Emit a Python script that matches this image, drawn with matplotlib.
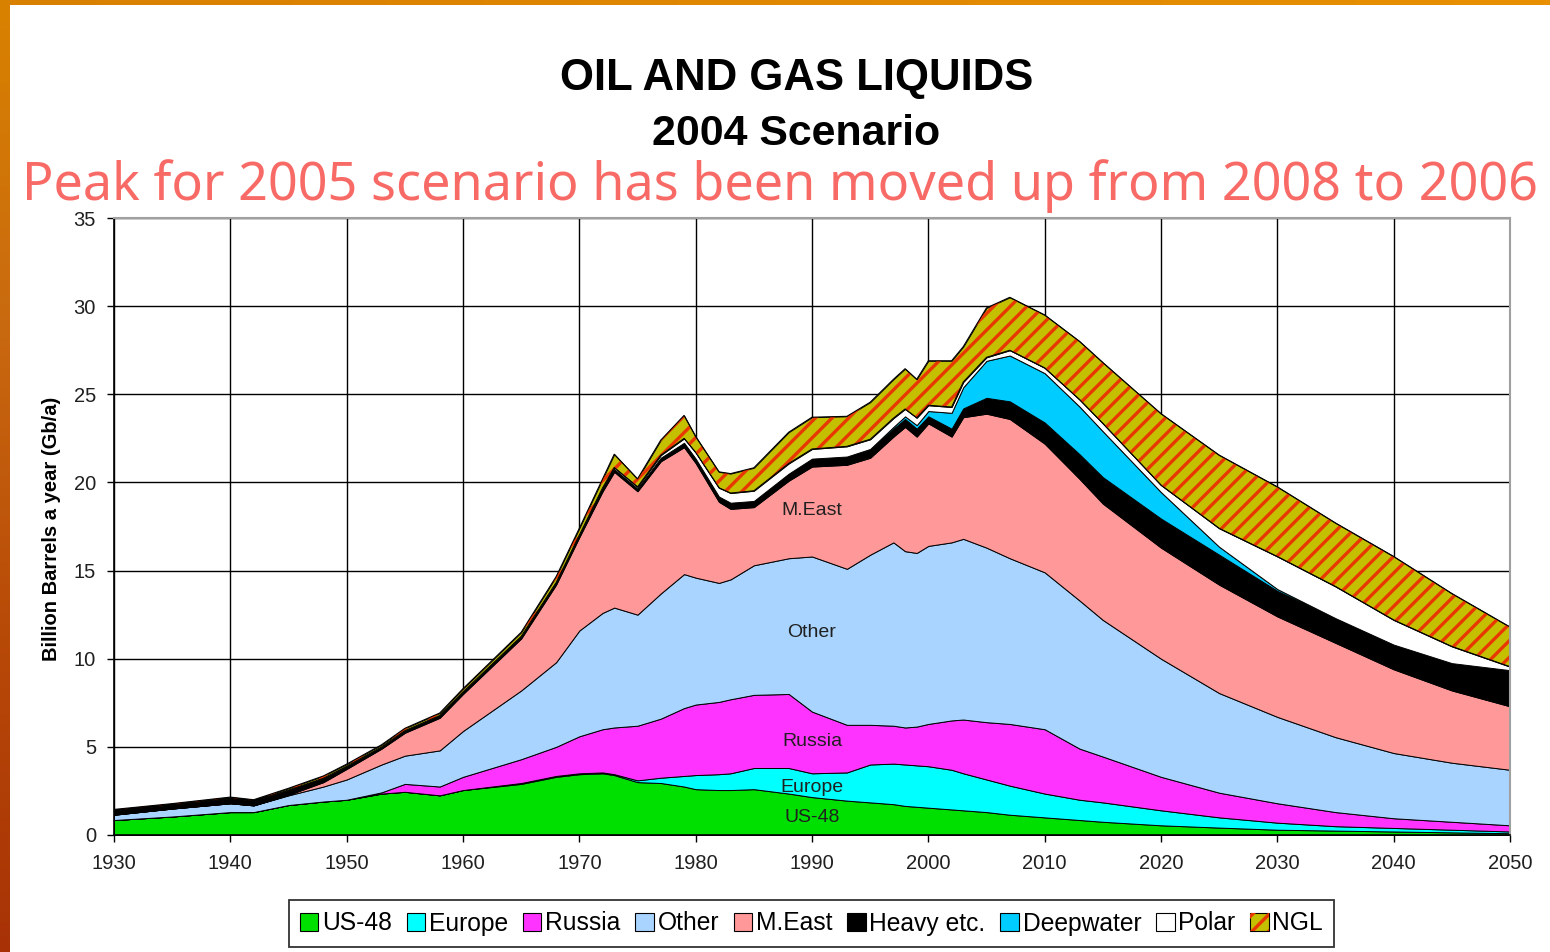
import numpy as np
import matplotlib
matplotlib.use("Agg")
import matplotlib.pyplot as plt
from matplotlib.patches import Patch
from matplotlib.legend_handler import HandlerTuple
from matplotlib.colors import LinearSegmentedColormap

plt.rcParams['font.family'] = ['Liberation Sans', 'DejaVu Sans']
plt.rcParams['hatch.linewidth'] = 2.4

# ---------------- data (Gb/a, per category) ----------------
years = [1930, 1935, 1940, 1942, 1945, 1948, 1950, 1953, 1955, 1958, 1960, 1965, 1968,
         1970, 1972, 1973, 1975, 1977, 1979, 1980, 1982, 1983, 1985, 1988, 1990, 1993,
         1995, 1997, 1998, 1999, 2000, 2002, 2003, 2005, 2007, 2010, 2013, 2015, 2020,
         2025, 2030, 2035, 2040, 2045, 2050]

us48 = [0.85, 1.05, 1.30, 1.30, 1.70, 1.90, 2.00, 2.35, 2.45, 2.25, 2.55, 2.90, 3.30,
        3.45, 3.50, 3.40, 3.00, 2.95, 2.75, 2.60, 2.55, 2.55, 2.60, 2.35, 2.15, 1.95,
        1.85, 1.75, 1.65, 1.60, 1.55, 1.45, 1.40, 1.30, 1.15, 1.00, 0.85, 0.75, 0.55,
        0.42, 0.30, 0.25, 0.20, 0.15, 0.10]
europe = [0, 0, 0, 0, 0, 0, 0, 0, 0, 0, 0, 0.05, 0.05,
          0.05, 0.05, 0.05, 0.10, 0.30, 0.60, 0.80, 0.90, 0.95, 1.20, 1.45, 1.35, 1.60,
          2.15, 2.30, 2.35, 2.35, 2.35, 2.25, 2.10, 1.85, 1.65, 1.35, 1.15, 1.10, 0.85,
          0.58, 0.40, 0.25, 0.20, 0.15, 0.10]
russia = [0, 0, 0, 0, 0, 0, 0, 0.07, 0.45, 0.50, 0.75, 1.35, 1.65,
          2.10, 2.45, 2.65, 3.10, 3.35, 3.85, 4.00, 4.10, 4.20, 4.15, 4.20, 3.50, 2.70,
          2.25, 2.15, 2.10, 2.20, 2.40, 2.80, 3.05, 3.25, 3.50, 3.65, 2.90, 2.60, 1.90,
          1.40, 1.10, 0.80, 0.55, 0.45, 0.35]
other = [0.30, 0.45, 0.50, 0.38, 0.55, 0.85, 1.15, 1.58, 1.60, 2.05, 2.60, 3.90, 4.80,
         6.00, 6.60, 6.80, 6.30, 7.10, 7.60, 7.20, 6.75, 6.80, 7.35, 7.70, 8.80, 8.85,
         9.65, 10.40, 10.00, 9.85, 10.10, 10.10, 10.25, 9.90, 9.40, 8.90, 8.40, 7.75, 6.70,
         5.65, 4.90, 4.25, 3.70, 3.35, 3.15]
meast = [0, 0, 0, 0, 0.03, 0.25, 0.60, 0.90, 1.30, 1.85, 2.10, 2.95, 4.40,
         5.30, 6.90, 7.70, 7.00, 7.50, 7.20, 6.50, 4.60, 4.00, 3.30, 4.40, 5.10, 5.90,
         5.50, 6.00, 7.05, 6.60, 6.95, 6.00, 6.90, 7.60, 7.90, 7.30, 6.90, 6.60, 6.30,
         6.15, 5.70, 5.35, 4.75, 4.10, 3.60]
heavy = [0.25, 0.22, 0.28, 0.27, 0.27, 0.22, 0.15, 0.10, 0.12, 0.13, 0.12, 0.12, 0.12,
         0.12, 0.15, 0.15, 0.15, 0.20, 0.25, 0.25, 0.30, 0.35, 0.35, 0.40, 0.45, 0.45,
         0.45, 0.45, 0.45, 0.45, 0.40, 0.45, 0.50, 0.90, 1.00, 1.20, 1.40, 1.50, 1.65,
         1.70, 1.45, 1.40, 1.40, 1.55, 2.05]
deepwater = [0, 0, 0, 0, 0, 0, 0, 0, 0, 0, 0, 0, 0,
             0, 0, 0, 0, 0, 0, 0, 0, 0, 0, 0, 0, 0.02,
             0.05, 0.10, 0.15, 0.20, 0.30, 0.90, 1.20, 2.10, 2.60, 2.80, 2.70, 2.60, 1.50,
             0.45, 0.10, 0, 0, 0, 0]
polar = [0, 0, 0, 0, 0, 0, 0, 0, 0, 0, 0, 0, 0,
         0, 0.05, 0.10, 0.10, 0.15, 0.25, 0.35, 0.50, 0.55, 0.58, 0.58, 0.55, 0.58,
         0.55, 0.50, 0.42, 0.42, 0.33, 0.33, 0.30, 0.20, 0.30, 0.30, 0.40, 0.45, 0.40,
         1.05, 1.85, 1.80, 1.40, 0.95, 0.20]
ngl = [0.05, 0.06, 0.07, 0.05, 0.10, 0.13, 0.12, 0.12, 0.13, 0.14, 0.18, 0.23, 0.33,
       0.38, 0.50, 0.75, 0.45, 0.85, 1.30, 0.90, 0.90, 1.10, 1.30, 1.77, 1.80, 1.70,
       2.10, 2.20, 2.28, 2.18, 2.52, 2.62, 2.00, 2.80, 3.00, 3.00, 3.30, 3.45, 4.05,
       4.15, 3.95, 3.60, 3.60, 3.00, 2.25]

series_names = ["US-48", "Europe", "Russia", "Other", "M.East", "Heavy etc.",
                "Deepwater", "Polar", "NGL"]
series = [us48, europe, russia, other, meast, heavy, deepwater, polar, ngl]
colors = ["#00E000", "#00FFFF", "#FF33FF", "#A8D4FF", "#FF9898", "#000000",
          "#00CCFF", "#FFFFFF", "#C4C000"]
stripe_color = "#E83800"

inner_labels = [("M.East", 18.4), ("Other", 11.5), ("Russia", 5.3),
                ("Europe", 2.7), ("US-48", 1.0)]
label_year = 1990

xticks = list(range(1930, 2051, 10))
yticks = list(range(0, 36, 5))

title1 = "OIL AND GAS LIQUIDS"
title2 = "2004 Scenario"
note = "Peak for 2005 scenario has been moved up from 2008 to 2006"
ylabel = "Billion Barrels a year (Gb/a)"

# ---------------- figure ----------------
W, H = 1550, 952
fig = plt.figure(figsize=(W / 100, H / 100), dpi=100)
fig.patch.set_facecolor("white")

# slide frame decoration (left and top orange strips)
grad = np.linspace(0, 1, 256).reshape(-1, 1)
cm_left = LinearSegmentedColormap.from_list("l", ["#D98200", "#C96A10", "#B84A08", "#A83206"])
axl = fig.add_axes([0, 0, 10 / W, 1])
axl.imshow(grad, aspect="auto", cmap=cm_left, extent=[0, 1, 1, 0])
axl.set_axis_off()
cm_top = LinearSegmentedColormap.from_list("t", ["#D88000", "#E89000"])
axt = fig.add_axes([0, 1 - 5 / H, 1, 5 / H])
axt.imshow(grad.T, aspect="auto", cmap=cm_top)
axt.set_axis_off()

ax = fig.add_axes([114 / W, 117 / H, 1396 / W, 617 / H])
ax.set_axisbelow(True)
ax.grid(True, color="black", linewidth=1.0)

ax.stackplot(years, *series, colors=colors, edgecolor="black", linewidth=0.7)
cum = np.cumsum(np.array(series, dtype=float), axis=0)
ax.fill_between(years, cum[-2], cum[-1], facecolor="none", edgecolor=stripe_color,
                hatch="//", linewidth=0)
ax.plot(years, cum[-1], color="black", linewidth=0.8)
ax.plot(years, cum[-2], color="black", linewidth=0.7)

ax.set_xlim(1930, 2050)
ax.set_ylim(0, 35)
ax.set_xticks(xticks)
ax.set_yticks(yticks)
ax.tick_params(axis="both", direction="out", length=5, width=1, colors="black",
               labelcolor="#202020", labelsize=14.5)
ax.tick_params(axis="x", pad=9)
ax.tick_params(axis="y", pad=8)
for s in ["left", "bottom"]:
    ax.spines[s].set_color("black")
    ax.spines[s].set_linewidth(1.2)
for s in ["top", "right"]:
    ax.spines[s].set_color("#A0A0A0")
    ax.spines[s].set_linewidth(1.5)

for name, yv in inner_labels:
    ax.text(label_year, yv, name, ha="center", va="center", fontsize=14, color="#202020")

fig.text(52 / W, 1 - 529 / H, ylabel, rotation=90, ha="center", va="center",
         fontsize=14.5, fontweight="bold", color="black")

# titles, sized to match widths
renderer = fig.canvas.get_renderer()


def fit_text(x, y, s, target_w, size, **kw):
    t = fig.text(x, y, s, fontsize=size, **kw)
    for _ in range(3):
        w = t.get_window_extent(renderer).width
        size = size * target_w / w
        t.set_fontsize(size)
    return t


fit_text(796.5 / W, 1 - 90 / H, title1, 473, 26, ha="center", va="baseline",
         fontweight="bold", color="black")
fit_text(796 / W, 1 - 145 / H, title2, 288, 26, ha="center", va="baseline",
         fontweight="bold", color="black")
fit_text(780 / W, 1 - 200 / H, note, 1516, 30, ha="center", va="baseline",
         color="#F86A66", fontweight="light",
         family=["Noto Sans", "DejaVu Sans"])

# legend
handles = []
for name, c in zip(series_names, colors):
    if name == "NGL":
        h = (Patch(facecolor=c, edgecolor="black", linewidth=0.8),
             Patch(facecolor="none", edgecolor=stripe_color, hatch="//", linewidth=0))
    else:
        h = Patch(facecolor=c, edgecolor="black", linewidth=0.8)
    handles.append(h)

fs = 14
for _ in range(3):
    leg = fig.legend(handles, series_names, loc="center",
                     bbox_to_anchor=(811.5 / W, 1 - 923.5 / H), bbox_transform=fig.transFigure,
                     ncol=9, fontsize=fs, frameon=True, fancybox=False,
                     handlelength=0.75, handleheight=0.75, handletextpad=0.15,
                     columnspacing=0.6, borderpad=0.45, borderaxespad=0,
                     handler_map={tuple: HandlerTuple(ndivide=1, pad=0)})
    leg.get_frame().set_edgecolor("black")
    leg.get_frame().set_linewidth(1.3)
    w = leg.get_window_extent(renderer).width
    if abs(w - 1047) < 3:
        break
    leg.remove()
    fs = fs * 1047 / w

fig.savefig("out.png", dpi=100, facecolor="white")
